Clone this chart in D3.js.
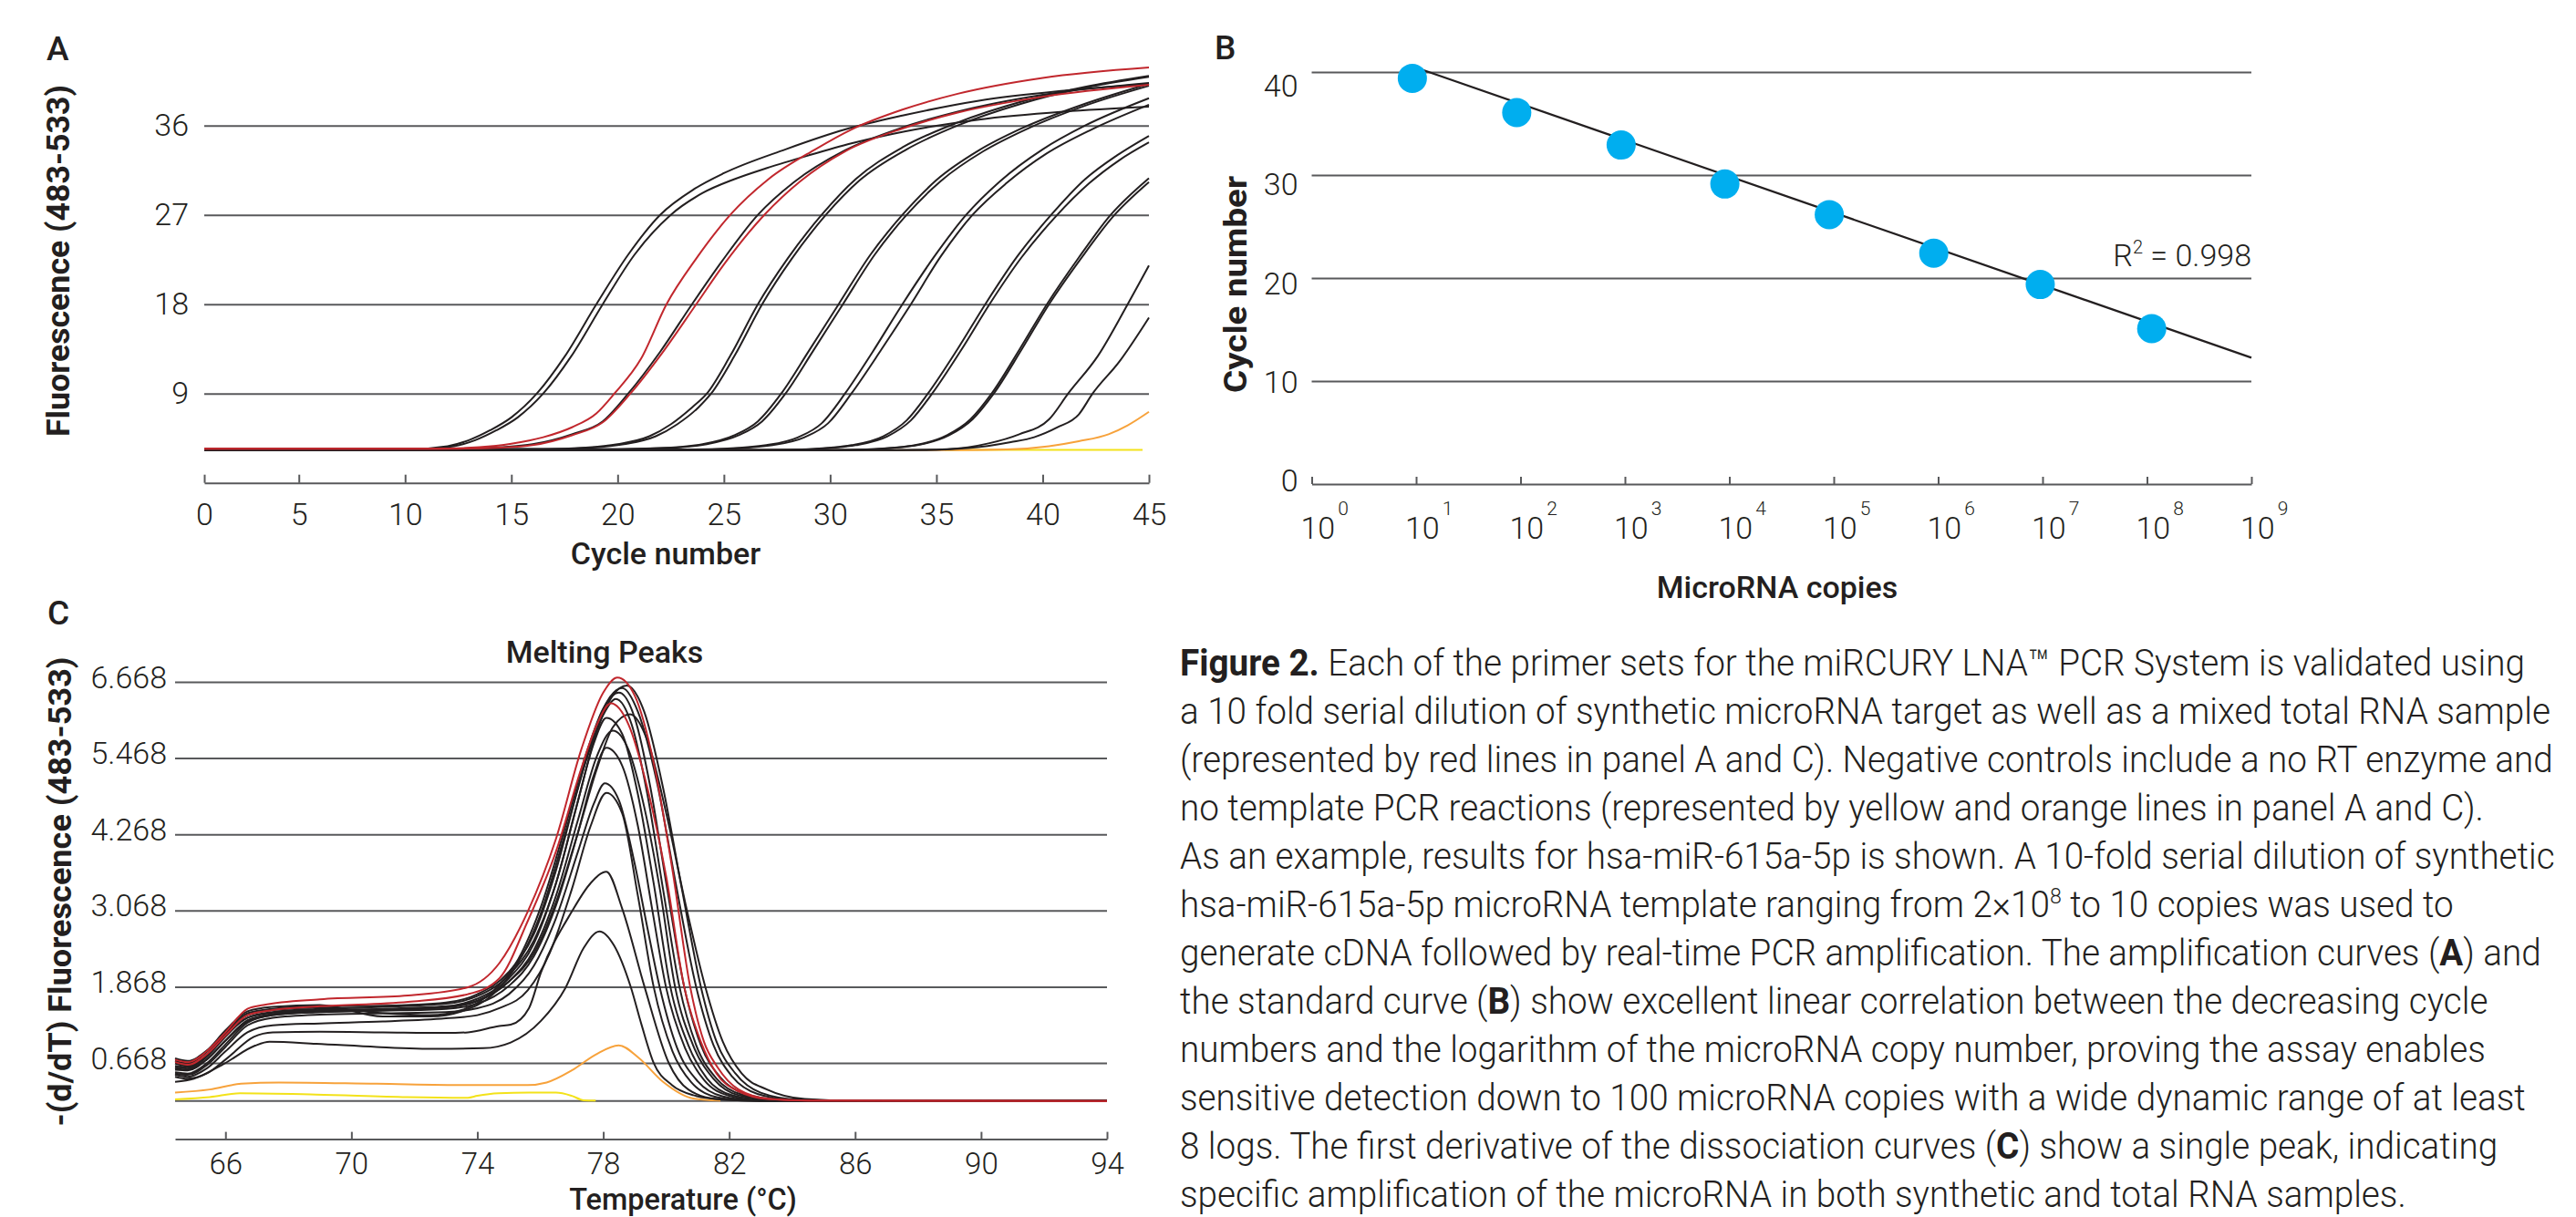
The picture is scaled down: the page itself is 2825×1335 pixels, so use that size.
<!DOCTYPE html>
<html>
<head>
<meta charset="utf-8">
<script src="https://cdn.jsdelivr.net/npm/d3@7"></script>
<style>
body { margin: 0; background: #fff; }
text { font-family: Roboto, "Noto Sans", sans-serif; fill: #231f20; }
</style>
</head>
<body>
<div class="chart"></div>
<script>

// ---------------- data: panel A (amplification curves) ----------------
const cycleTicks = [0, 5, 10, 15, 20, 25, 30, 35, 40, 45];
const fluorTicks = [9, 18, 27, 36];

const ampBlack = [
  [[0.55,3.45],[10.5,3.45],[12,3.7],[13,4.3],[14,5.3],[15,6.6],[16.2,9],[17.5,12.7],[19,18],[20.5,23],[22,27],[23.6,29.6],[25,31.2],[27.9,33.6],[30.7,35.6],[33.4,37.0],[37,38.5],[41,39.5],[45,40.2]],
  [[0.55,3.45],[10.8,3.45],[12.3,3.7],[13.3,4.3],[14.3,5.3],[15.3,6.6],[16.5,9],[17.8,12.7],[19.3,18],[20.8,23],[22.5,27],[24,29.2],[25.5,30.6],[27,31.7],[29,33],[31,34.2],[33.5,35.4],[37,36.6],[41,37.4],[45,37.9]],
  [[0.55,3.45],[12.5,3.45],[14.5,3.6],[16,3.9],[17.85,4.9],[19.3,6.2],[20.5,9],[22,13.2],[23.5,18],[24.9,22.3],[26.6,27],[28.3,30.3],[30.7,33.5],[33.4,35.8],[36,37.4],[40,39.1],[45,40.3]],
  [[0.55,3.4],[16.5,3.4],[18.5,3.55],[20,3.9],[21.5,4.7],[22.5,5.9],[23.5,7.6],[24.2,9],[25.3,12.8],[26.6,18],[28,22.6],[29.6,27],[31.2,30.6],[33.4,33.8],[36,36.3],[39,38.4],[42,39.9],[45,41.0]],
  [[0.55,3.4],[16.8,3.4],[18.8,3.55],[20.3,3.9],[21.8,4.7],[22.8,5.9],[23.8,7.6],[24.4,9],[25.5,12.8],[26.8,18],[28.2,22.6],[29.8,27],[31.4,30.5],[33.6,33.6],[36,36.0],[39,38.2],[42,39.8],[45,40.9]],
  [[0.55,3.4],[20,3.4],[22,3.5],[24,3.9],[25.5,4.8],[26.6,6.2],[27.7,9],[29,13.3],[30.4,18],[31.9,23],[33.4,27],[35,30.5],[37,33.5],[39,35.7],[42,38.2],[45,40.2]],
  [[0.55,3.4],[20.2,3.4],[22.2,3.5],[24.2,3.9],[25.7,4.8],[26.8,6.2],[27.9,9],[29.2,13.3],[30.6,18],[32.1,23],[33.6,27],[35.2,30.4],[37.2,33.4],[39.2,35.6],[42,38],[45,40.0]],
  [[0.55,3.35],[23,3.35],[25,3.45],[27,3.8],[28.5,4.6],[29.6,6],[30.7,9],[32,13.2],[33.4,18],[34.9,22.8],[36.4,27],[38,30.4],[40,33.6],[42,36],[45,38.75]],
  [[0.55,3.35],[23.3,3.35],[25.3,3.45],[27.3,3.8],[28.8,4.6],[29.9,6],[31,9],[32.4,13.4],[33.8,18],[35.2,22.8],[36.7,27],[38.3,30.2],[40.2,33.2],[42.3,35.6],[45,38.1]],
  [[0.55,3.3],[27,3.3],[29,3.4],[31,3.8],[32.5,4.7],[33.6,6.3],[34.6,9],[36,13.5],[37.3,18],[38.8,22.8],[40.4,27],[42,30.6],[43.5,33],[45,34.96]],
  [[0.55,3.3],[27.2,3.3],[29.2,3.4],[31.2,3.8],[32.7,4.7],[33.8,6.3],[34.8,9],[36.2,13.5],[37.5,18],[39,22.7],[40.6,26.8],[42.2,30.2],[43.6,32.5],[45,34.3]],
  [[0.55,3.3],[30,3.3],[32,3.4],[34,3.8],[35.5,4.8],[36.6,6.4],[37.6,9],[38.9,13.4],[40.2,18],[41.7,22.7],[43.2,27],[45,30.7]],
  [[0.55,3.3],[30.1,3.3],[32.1,3.4],[34.1,3.8],[35.6,4.8],[36.7,6.4],[37.7,9],[39,13.4],[40.3,18],[41.8,22.6],[43.3,26.8],[45,30.3]],
  [[0.55,3.3],[33,3.3],[35.5,3.4],[37.5,4],[38.9,4.9],[40.3,6.4],[41.2,9],[42.6,12.8],[44,18],[45,21.9]],
  [[0.55,3.3],[34,3.3],[36.5,3.5],[38.5,4.1],[39.6,4.6],[40.7,5.6],[41.7,6.9],[42.35,9],[43.6,12.2],[45,16.65]]
];
const ampRed = [
  [[0.55,3.45],[11.5,3.45],[13.5,3.6],[15,3.95],[16.5,4.6],[17.85,5.6],[19,7],[19.85,9],[21.1,12.5],[22.3,18],[23.7,22.6],[25.3,27],[27.1,30.6],[29.3,33.6],[31,35.6],[33.4,37.6],[36,39.2],[40,40.8],[45,41.85]],
  [[0.55,3.45],[12.5,3.45],[14.5,3.55],[16,3.8],[17.85,4.8],[19.3,6.1],[20.6,9],[22.1,13.1],[23.7,18],[25,22],[26.9,27],[28.6,30.4],[30.7,33.4],[33.4,35.7],[36,37.3],[40,38.9],[45,40.1]]
];
const ampOrange = [[0.55,3.3],[36,3.3],[38.3,3.36],[40.3,3.7],[41.7,4.2],[43.1,4.9],[44,5.8],[45,7.16]];
const ampYellow = [[35.4,3.32],[40,3.32],[44.7,3.32]];

// ---------------- data: panel B (standard curve) ----------------
const copyExponents = [0, 1, 2, 3, 4, 5, 6, 7, 8, 9];
const cycleTicksB = [0, 10, 20, 30, 40];
const copies = [9.2, 92, 920, 9060, 90600, 908000, 9.5e6, 1.11e8];
const cycleNumber = [39.39, 36.07, 32.91, 29.13, 26.16, 22.41, 19.37, 15.09];
const fitSlope = -3.52, fitIntercept = 43.95;
const rSquared = "0.998";

// ---------------- data: panel C (melting peaks) ----------------
const tempTicks = [66, 70, 74, 78, 82, 86, 90, 94];
const derivTicks = [0.668, 1.868, 3.068, 4.268, 5.468, 6.668];
const derivBase = 0.068;
const derivAxis = -0.532;

const meltBlack = [
  [[64.4,0.62],[64.8,0.6],[65.4,0.78],[66,1.1],[66.7,1.38],[67.5,1.47],[69,1.52],[71,1.55],[73,1.6],[74,1.72],[75,2.05],[75.8,2.6],[76.5,3.5],[77.2,4.8],[77.8,5.9],[78.3,6.45],[78.75,6.61],[79.3,6.2],[79.9,5.0],[80.5,3.4],[81.1,1.868],[81.6,1.0],[82.2,0.5],[83,0.2],[84.2,0.09],[86,0.07],[94,0.07]],
  [[64.4,0.58],[64.8,0.56],[65.4,0.72],[66,1.02],[66.7,1.32],[67.5,1.42],[69,1.47],[71,1.5],[73,1.55],[74,1.65],[75,1.95],[75.8,2.4],[76.5,3.2],[77.2,4.3],[77.8,5.3],[78.3,5.95],[78.85,6.16],[79.4,5.75],[80.0,4.6],[80.6,3.2],[81.24,1.868],[81.8,1.0],[82.4,0.5],[83.2,0.25],[84.4,0.1],[86,0.07],[94,0.07]],
  [[64.4,0.7],[64.8,0.66],[65.4,0.84],[66,1.15],[66.7,1.45],[67.5,1.52],[69,1.56],[71,1.57],[73,1.62],[74,1.75],[75,2.1],[75.8,2.7],[76.5,3.7],[77.2,5.0],[77.8,6.0],[78.2,6.42],[78.6,6.57],[79.1,6.2],[79.7,5.1],[80.3,3.5],[80.95,1.868],[81.5,0.95],[82.1,0.45],[82.9,0.18],[84,0.09],[86,0.07],[94,0.07]],
  [[64.4,0.66],[64.8,0.62],[65.4,0.8],[66,1.12],[66.7,1.42],[67.5,1.5],[69,1.54],[71,1.45],[72.5,1.42],[73.5,1.5],[74.5,1.8],[75.3,2.3],[76,3.1],[76.8,4.4],[77.5,5.6],[78,6.25],[78.5,6.5],[79,6.1],[79.5,5.0],[80,3.5],[80.57,1.868],[81.1,0.95],[81.7,0.45],[82.5,0.18],[83.6,0.09],[86,0.07],[94,0.07]],
  [[64.4,0.74],[64.8,0.7],[65.4,0.86],[66,1.18],[66.7,1.48],[67.5,1.55],[69,1.58],[71,1.4],[72.5,1.4],[73.5,1.48],[74.5,1.75],[75.3,2.25],[76,3.0],[76.8,4.3],[77.5,5.5],[78,6.15],[78.4,6.4],[78.9,6.0],[79.4,4.9],[79.9,3.4],[80.42,1.868],[80.95,0.95],[81.6,0.42],[82.4,0.17],[83.5,0.09],[86,0.07],[94,0.07]],
  [[64.4,0.6],[64.8,0.58],[65.4,0.76],[66,1.08],[66.7,1.38],[67.5,1.46],[69,1.5],[71,1.52],[73,1.56],[74,1.68],[75,2.0],[75.8,2.55],[76.5,3.5],[77.2,4.8],[77.7,5.7],[78.1,6.1],[78.6,5.85],[79.1,4.9],[79.6,3.5],[80.13,1.868],[80.7,0.95],[81.3,0.42],[82.1,0.16],[83.2,0.09],[86,0.07],[94,0.07]],
  [[64.4,0.56],[64.8,0.55],[65.4,0.72],[66,1.02],[66.7,1.34],[67.5,1.44],[69,1.49],[71,1.5],[73,1.54],[74,1.64],[75,1.95],[75.8,2.45],[76.5,3.3],[77.2,4.5],[77.8,5.5],[78.3,5.9],[78.8,5.6],[79.3,4.7],[79.8,3.4],[80.28,1.868],[80.85,0.95],[81.5,0.42],[82.3,0.16],[83.4,0.09],[86,0.07],[94,0.07]],
  [[64.4,0.52],[64.8,0.5],[65.4,0.66],[66,0.96],[66.7,1.3],[67.5,1.42],[69,1.47],[71,1.49],[73,1.52],[74,1.6],[75,1.88],[75.8,2.35],[76.5,3.15],[77.2,4.3],[77.7,5.2],[78.1,5.63],[78.6,5.35],[79.1,4.4],[79.55,3.1],[79.99,1.868],[80.6,0.9],[81.2,0.4],[82,0.15],[83,0.08],[86,0.07],[94,0.07]],
  [[64.4,0.5],[64.8,0.48],[65.4,0.63],[66,0.92],[66.7,1.26],[67.5,1.38],[69,1.43],[71,1.45],[73,1.47],[74,1.53],[75,1.75],[75.8,2.2],[76.5,2.95],[77.2,4.0],[77.7,4.75],[78.05,5.07],[78.5,4.8],[79,3.8],[79.4,2.8],[79.79,1.868],[80.35,0.9],[81,0.38],[81.8,0.14],[82.8,0.08],[86,0.07],[94,0.07]],
  [[64.4,0.48],[64.8,0.45],[65.4,0.58],[66,0.85],[66.7,1.15],[67.5,1.26],[69,1.29],[71,1.32],[73,1.37],[74,1.42],[74.7,1.53],[75.6,1.81],[76.3,2.4],[77,3.4],[77.6,4.4],[78.1,4.92],[78.6,4.6],[79.1,3.3],[79.6,1.868],[80.2,0.85],[80.8,0.36],[81.6,0.13],[82.6,0.08],[86,0.07],[94,0.07]],
  [[64.4,0.45],[64.8,0.42],[65.4,0.5],[66,0.72],[66.9,1.08],[67.5,1.15],[69,1.16],[71,1.15],[73,1.14],[73.7,1.15],[74.7,1.25],[75.06,1.27],[75.64,1.53],[76.02,2.09],[77,3.05],[77.6,3.5],[78.1,3.68],[78.6,3.1],[79.31,1.868],[80.08,0.668],[80.7,0.25],[81.6,0.1],[83,0.07],[94,0.07]],
  [[64.4,0.37],[65,0.42],[65.97,0.66],[66.94,0.94],[67.4,1.0],[68.88,0.97],[70.8,0.92],[72.74,0.89],[74.19,0.9],[75.06,0.99],[76.02,1.33],[76.8,1.85],[77.38,2.48],[77.88,2.74],[78.34,2.52],[78.87,1.87],[79.21,1.28],[79.6,0.67],[80.18,0.32],[80.86,0.16],[81.82,0.09],[83,0.07],[94,0.07]]
];
const meltRed = [
  [[64.4,0.72],[64.8,0.68],[65.4,0.85],[66,1.15],[66.7,1.52],[67.2,1.58],[69,1.67],[71.8,1.73],[73.7,1.86],[74.7,2.24],[75.6,3.05],[76.5,4.2],[77.3,5.6],[78,6.5],[78.45,6.735],[79,6.45],[79.6,5.4],[80.2,3.7],[80.76,1.868],[81.2,1.0],[81.63,0.6],[82.3,0.25],[83.3,0.1],[84.5,0.075],[94,0.07]],
  [[64.4,0.68],[64.8,0.64],[65.4,0.8],[66,1.1],[66.7,1.42],[67.5,1.5],[69,1.56],[71.8,1.63],[73.7,1.75],[74.7,2.0],[75.6,2.9],[76.5,4.0],[77.3,5.3],[77.8,6.0],[78.24,6.33],[78.8,6.0],[79.4,5.0],[80.0,3.6],[80.57,1.868],[81.1,1.0],[81.6,0.5],[82.3,0.22],[83.2,0.1],[84.5,0.075],[94,0.07]]
];
const meltOrange = [[64.4,0.2],[65.5,0.25],[66.5,0.34],[67.7,0.36],[70.8,0.34],[73.7,0.32],[75.6,0.32],[76.2,0.36],[77,0.55],[77.76,0.8],[78.49,0.945],[79.12,0.75],[79.9,0.37],[80.86,0.108],[81.72,0.075]];
const meltYellow = [[64.4,0.094],[65.5,0.13],[66.46,0.19],[68.88,0.17],[71.77,0.13],[73.7,0.12],[74.0,0.15],[74.67,0.19],[75.64,0.2],[76.5,0.2],[77,0.15],[77.38,0.08],[77.76,0.075]];

// ---------------- caption ----------------
const captionLines = [
  [["Figure 2.", "b"], [" Each of the primer sets for the miRCURY LNA™ PCR System is validated using"]],
  [["a 10 fold serial dilution of synthetic microRNA target as well as a mixed total RNA sample"]],
  [["(represented by red lines in panel A and C). Negative controls include a no RT enzyme and"]],
  [["no template PCR reactions (represented by yellow and orange lines in panel A and C)."]],
  [["As an example, results for hsa-miR-615a-5p is shown. A 10-fold serial dilution of synthetic"]],
  [["hsa-miR-615a-5p microRNA template ranging from 2×10"], ["8", "sup"], [" to 10 copies was used to"]],
  [["generate cDNA followed by real-time PCR amplification. The amplification curves ("], ["A", "b"], [") and"]],
  [["the standard curve ("], ["B", "b"], [") show excellent linear correlation between the decreasing cycle"]],
  [["numbers and the logarithm of the microRNA copy number, proving the assay enables"]],
  [["sensitive detection down to 100 microRNA copies with a wide dynamic range of at least"]],
  [["8 logs. The first derivative of the dissociation curves ("], ["C", "b"], [") show a single peak, indicating"]],
  [["specific amplification of the microRNA in both synthetic and total RNA samples."]]
];

const width = 2825, height = 1335;
const grid = "#58595b", ink = "#231f20";
const colBlack = "#231f20", colRed = "#c1272d", colOrange = "#f7a23b", colYellow = "#f3e21a", colDot = "#00aeef";

const svg = d3.select(".chart").append("svg")
              .attr("width", width).attr("height", height)
              .attr("viewBox", [0, 0, width, height]);
svg.append("rect").attr("width", width).attr("height", height).attr("fill", "#fff");

function styleAxis(g, size) {
    g.attr("font-family", null).attr("font-size", null);
    g.selectAll(".tick line").attr("stroke", grid).attr("stroke-width", 2);
    g.selectAll(".domain").attr("stroke", grid).attr("stroke-width", 2);
    g.selectAll("text").style("font-size", size + "px").style("font-weight", 300).attr("fill", ink);
}

function title(g, txt, x, y, opts = {}) {
    var t = g.append("text").text(txt)
             .attr("text-anchor", opts.anchor || "middle")
             .style("font-size", (opts.size || 34) + "px")
             .style("font-weight", opts.weight || 500);
    if (opts.rotate) t.attr("transform", "translate(" + x + "," + y + ")rotate(-90)");
    else t.attr("x", x).attr("y", y);
    if (opts.len) t.attr("textLength", opts.len).attr("lengthAdjust", "spacingAndGlyphs");
    return t;
}

// ================= panel A =================
const xA = d3.scaleLinear().domain([0.55, 45]).range([224, 1260]).clamp(true);
const yA = d3.scaleLinear().domain([0, 36]).range([529.7, 137.7]);
var gA = svg.append("g").classed("panelA", true);

gA.append("g").attr("transform", "translate(224,0)")
  .call(d3.axisLeft(yA).tickValues(fluorTicks).tickSizeInner(-(1260 - 224)).tickSizeOuter(0).tickPadding(17))
  .call(g => g.select(".domain").remove())
  .call(g => styleAxis(g, 34));

gA.append("g").attr("transform", "translate(0," + yA(0) + ")")
  .call(d3.axisBottom(xA).tickValues(cycleTicks).tickSizeInner(-9).tickSizeOuter(0).tickPadding(22))
  .call(g => styleAxis(g, 34));

const lineA = d3.line().x(d => xA(d[0])).y(d => yA(d[1])).curve(d3.curveMonotoneX);
gA.append("path").datum(ampYellow).attr("d", lineA).attr("fill", "none").attr("stroke", colYellow).attr("stroke-width", 2);
gA.append("path").datum(ampOrange).attr("d", lineA).attr("fill", "none").attr("stroke", colOrange).attr("stroke-width", 2);
gA.append("g").selectAll("path").data(ampBlack).enter().append("path")
  .attr("d", lineA).attr("fill", "none").attr("stroke", colBlack).attr("stroke-width", 2);
gA.append("g").selectAll("path").data(ampRed).enter().append("path")
  .attr("d", lineA).attr("fill", "none").attr("stroke", colRed).attr("stroke-width", 2);

title(gA, "A", 51, 65.6, {anchor: "start", size: 37, weight: 500});
title(gA, "Cycle number", 730, 619);
title(gA, "Fluorescence (483-533)", 76, 286, {rotate: true, weight: 700, size: 35, len: 386});

// ================= panel B =================
const xB = d3.scaleLog().domain([1, 1e9]).range([1438.5, 2469]);
const yB = d3.scaleLinear().domain([0, 40]).range([531, 79]);
const yBLabel = d3.scaleLinear().domain([0, 40]).range([527.5, 94.8]);
var gB = svg.append("g").classed("panelB", true);

gB.append("g").attr("transform", "translate(1438.5,0)")
  .call(d3.axisLeft(yB).tickValues(cycleTicksB.filter(d => d > 0)).tickSizeInner(-(2469 - 1438.5)).tickSizeOuter(0).tickFormat(""))
  .call(g => g.select(".domain").remove())
  .call(g => styleAxis(g, 34));

gB.append("g").attr("transform", "translate(1438.5,0)")
  .call(d3.axisLeft(yBLabel).tickValues(cycleTicksB).tickSize(0).tickPadding(15))
  .call(g => g.select(".domain").remove())
  .call(g => styleAxis(g, 34));

gB.append("g").attr("transform", "translate(0," + yB(0) + ")")
  .call(d3.axisBottom(xB).tickValues(copyExponents.map(e => Math.pow(10, e))).tickSizeInner(-8).tickSizeOuter(0).tickFormat(""))
  .call(g => styleAxis(g, 34));

var lbl = gB.append("g").selectAll("text").data(copyExponents).enter().append("text")
  .attr("x", d => xB(Math.pow(10, d)) - 12)
  .attr("y", 590.7)
  .style("font-size", "34px").style("font-weight", 300);
lbl.append("tspan").text("10");
lbl.append("tspan").attr("dx", 3).attr("dy", -26).style("font-size", "21px").text(d => d);

const fit = c => fitIntercept + fitSlope * Math.log10(c);
const lineB = d3.line().x(d => xB(d)).y(d => yB(fit(d)));
gB.append("path").datum([copies[0], 1e9]).attr("d", lineB)
  .attr("fill", "none").attr("stroke", colBlack).attr("stroke-width", 2.2);

gB.append("g").selectAll("circle").data(copies).enter().append("circle")
  .attr("cx", d => xB(d))
  .attr("cy", (d, i) => yB(cycleNumber[i]))
  .attr("r", 16)
  .attr("fill", colDot);

var r2 = gB.append("text").attr("x", 2469).attr("y", 292).attr("text-anchor", "end")
           .style("font-size", "34px").style("font-weight", 300);
r2.append("tspan").text("R");
r2.append("tspan").attr("dy", -14).style("font-size", "20px").text("2");
r2.append("tspan").attr("dy", 14).text(" = " + rSquared);

title(gB, "B", 1332, 65.4, {anchor: "start", size: 37, weight: 500});
title(gB, "MicroRNA copies", 1949, 656);
title(gB, "Cycle number", 1367, 312, {rotate: true, weight: 700, size: 35, len: 238});

// ================= panel C =================
const xC = d3.scaleLinear().domain([64.4, 94]).range([192, 1214]);
const yC = d3.scaleLinear().domain([0.668, 6.668]).range([1166, 748]);
var gC = svg.append("g").classed("panelC", true);

gC.append("g").attr("transform", "translate(192,0)")
  .call(d3.axisLeft(yC).tickValues(derivTicks).tickSizeInner(-(1214 - 192)).tickSizeOuter(0).tickPadding(9).tickFormat(d3.format(".3f")))
  .call(g => g.select(".domain").remove())
  .call(g => styleAxis(g, 34))
  .call(g => g.selectAll("text").attr("dy", "0.18em"));

gC.append("line")
  .attr("x1", xC(64.4)).attr("x2", xC(94))
  .attr("y1", yC(derivBase)).attr("y2", yC(derivBase))
  .attr("stroke", grid).attr("stroke-width", 2);

gC.append("g").attr("transform", "translate(0," + yC(derivAxis) + ")")
  .call(d3.axisBottom(xC).tickValues(tempTicks).tickSizeInner(-8).tickSizeOuter(0).tickPadding(15))
  .call(g => styleAxis(g, 33));

const lineC = d3.line().x(d => xC(d[0])).y(d => yC(d[1])).curve(d3.curveMonotoneX);
gC.append("path").datum(meltYellow).attr("d", lineC).attr("fill", "none").attr("stroke", colYellow).attr("stroke-width", 2);
gC.append("path").datum(meltOrange).attr("d", lineC).attr("fill", "none").attr("stroke", colOrange).attr("stroke-width", 2);
gC.append("g").selectAll("path").data(meltBlack).enter().append("path")
  .attr("d", lineC).attr("fill", "none").attr("stroke", colBlack).attr("stroke-width", 2);
gC.append("g").selectAll("path").data(meltRed).enter().append("path")
  .attr("d", lineC).attr("fill", "none").attr("stroke", colRed).attr("stroke-width", 2);

title(gC, "C", 52, 684.5, {anchor: "start", size: 37, weight: 500});
title(gC, "Melting Peaks", 663, 727);
title(gC, "Temperature (°C)", 749, 1326.5, {size: 32.5});
title(gC, "-(d/dT) Fluorescence (483-533)", 78, 978, {rotate: true, weight: 700, size: 35, len: 515});

// ================= caption =================
var cap = svg.append("g").classed("caption", true);
captionLines.forEach(function(line, i) {
    var t = cap.append("text").attr("x", 0).attr("y", 741 + i * 53)
               .style("font-size", "40px").style("font-weight", 300);
    line.forEach(function(seg, j) {
        var s = t.append("tspan").text(seg[0]);
        if (seg[1] == "b") s.style("font-weight", 700);
        if (seg[1] == "sup") s.attr("dy", -15).style("font-size", "24px");
        else if (j > 0 && line[j - 1][1] == "sup") s.attr("dy", 15);
    });
});
var w0 = cap.select("text").node().getComputedTextLength();
cap.attr("transform", "translate(1294,0)scale(" + (1475 / w0) + ",1)");

</script>
</body>
</html>
